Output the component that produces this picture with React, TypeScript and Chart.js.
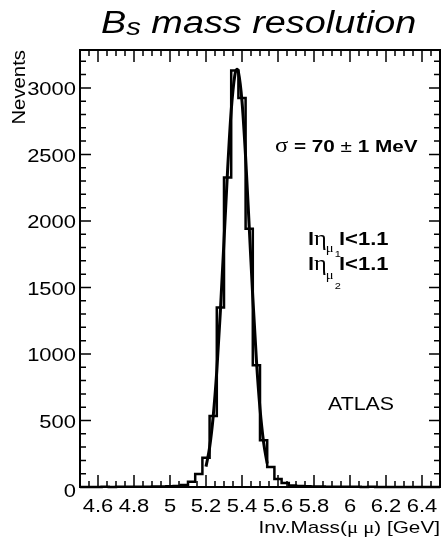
import React, { useEffect, useRef } from "react";
import { Chart, registerables } from "chart.js";

Chart.register(...registerables);

// ---- data ----
const binLow = [
  4.5, 4.54, 4.58, 4.62, 4.66, 4.7, 4.74, 4.78, 4.82, 4.86,
  4.9, 4.94, 4.98, 5.02, 5.06, 5.1, 5.14, 5.18, 5.22, 5.26,
  5.3, 5.34, 5.38, 5.42, 5.46, 5.5, 5.54, 5.58, 5.62, 5.66,
  5.7, 5.74, 5.78, 5.82, 5.86, 5.9, 5.94, 5.98, 6.02, 6.06,
  6.1, 6.14, 6.18, 6.22, 6.26, 6.3, 6.34, 6.38, 6.42, 6.46,
];
const binHigh = 6.5;
const counts = [
  0, 0, 0, 1, 0, 1, 1, 2, 1, 2,
  3, 4, 5, 8, 15, 40, 98, 220, 533, 1350,
  2327, 3130, 2925, 1942, 915, 352, 150, 60, 30, 12,
  8, 5, 4, 3, 2, 2, 1, 1, 1, 0,
  1, 0, 0, 0, 0, 0, 0, 0, 0, 0,
];
const fitMass = [
  5.2, 5.22, 5.24, 5.26, 5.28, 5.3, 5.32, 5.34, 5.36, 5.372,
  5.38, 5.4, 5.42, 5.44, 5.46, 5.48, 5.5, 5.52, 5.54,
];
const fitValues = [
  153, 297, 531, 873, 1324, 1850, 2383, 2829, 3094, 3140,
  3120, 2899, 2482, 1959, 1425, 955, 590, 336, 176,
];
const xTickValues = [4.6, 4.8, 5.0, 5.2, 5.4, 5.6, 5.8, 6.0, 6.2, 6.4];
const xTickLabels = ["4.6", "4.8", "5", "5.2", "5.4", "5.6", "5.8", "6", "6.2", "6.4"];
const yTickValues = [0, 500, 1000, 1500, 2000, 2500, 3000];
const yTickLabels = ["0", "500", "1000", "1500", "2000", "2500", "3000"];
const xRange = [4.5, 6.5];
const yRange = [0, 3285];

// ---- styling ----
const SX = 1.22;
const SANS = '"Liberation Sans", Arial, Helvetica, sans-serif';
const SERIF = '"Liberation Serif", "DejaVu Serif", serif';

type Run = { t: string; font: string; dy?: number };

function drawRuns(ctx: CanvasRenderingContext2D, parts: Run[], x: number, y: number, align: "left" | "right" | "center" = "left", sx = SX) {
  ctx.save();
  let total = 0;
  const widths = parts.map((p) => {
    ctx.font = p.font;
    const w = ctx.measureText(p.t).width * sx;
    total += w;
    return w;
  });
  let cx = x;
  if (align === "right") cx = x - total;
  else if (align === "center") cx = x - total / 2;
  ctx.fillStyle = "#000";
  ctx.textAlign = "left";
  ctx.textBaseline = "alphabetic";
  parts.forEach((p, i) => {
    ctx.save();
    ctx.font = p.font;
    ctx.translate(cx, y + (p.dy || 0));
    ctx.scale(sx, 1);
    ctx.fillText(p.t, 0, 0);
    ctx.restore();
    cx += widths[i];
  });
  ctx.restore();
  return cx;
}

const overlay = {
  id: "rootStyle",
  afterDatasetsDraw(chart: any) {
    const ctx: CanvasRenderingContext2D = chart.ctx;
    const xs = chart.scales.x;
    const ys = chart.scales.y;
    const { left, right, top, bottom } = chart.chartArea;

    ctx.save();
    ctx.strokeStyle = "#000";
    // frame
    ctx.lineWidth = 2;
    ctx.strokeRect(left, top, right - left, bottom - top);

    // ticks (inside, mirrored)
    ctx.lineWidth = 1.5;
    ctx.beginPath();
    for (let v = xRange[0]; v <= xRange[1] + 1e-9; v += 0.05) {
      const px = xs.getPixelForValue(v);
      const major = xTickValues.some((t) => Math.abs(t - v) < 1e-6);
      const len = major ? 12 : 6;
      ctx.moveTo(px, bottom);
      ctx.lineTo(px, bottom - len);
      ctx.moveTo(px, top);
      ctx.lineTo(px, top + len);
    }
    for (let v = 0; v <= yRange[1]; v += 100) {
      const py = ys.getPixelForValue(v);
      const major = yTickValues.indexOf(v) >= 0;
      const len = major ? 11 : 6;
      ctx.moveTo(left, py);
      ctx.lineTo(left + len, py);
      ctx.moveTo(right, py);
      ctx.lineTo(right - len, py);
    }
    ctx.stroke();

    // tick labels
    const tickFont = `18px ${SANS}`;
    xTickValues.forEach((v, i) => {
      drawRuns(ctx, [{ t: xTickLabels[i], font: tickFont }], xs.getPixelForValue(v), 512, "center");
    });
    yTickValues.forEach((v, i) => {
      const py = ys.getPixelForValue(v);
      drawRuns(ctx, [{ t: yTickLabels[i], font: tickFont }], 76, py + (v === 0 ? 10 : 7.5), "right");
    });

    // axis titles
    drawRuns(
      ctx,
      [
        { t: "Inv.Mass(", font: `17px ${SANS}` },
        { t: "\u03bc \u03bc", font: `17px ${SERIF}` },
        { t: ") [GeV]", font: `17px ${SANS}` },
      ],
      440,
      533,
      "right"
    );
    ctx.save();
    ctx.translate(25, 50);
    ctx.rotate(-Math.PI / 2);
    drawRuns(ctx, [{ t: "Nevents", font: `18px ${SANS}` }], 0, 0, "right", 1.13);
    ctx.restore();

    // title
    drawRuns(
      ctx,
      [
        { t: "B", font: `italic 31px ${SANS}` },
        { t: "s", font: `italic 24px ${SANS}`, dy: 2 },
        { t: " mass resolution", font: `italic 31px ${SANS}` },
      ],
      101,
      33,
      "left"
    );

    // sigma annotation
    drawRuns(
      ctx,
      [
        { t: "\u03c3", font: `20px ${SERIF}` },
        { t: " = 70 ", font: `bold 17px ${SANS}` },
        { t: "\u00b1", font: `17px ${SANS}` },
        { t: " 1 MeV", font: `bold 17px ${SANS}` },
      ],
      275,
      152,
      "left"
    );

    // |eta| cuts
    const etaLine = (y: number, idx: string, muDy: number, idxDy: number) => {
      let x = drawRuns(ctx, [{ t: "l", font: `bold 18px ${SANS}` }], 308, y);
      x = drawRuns(ctx, [{ t: "\u03b7", font: `20px ${SERIF}` }], x, y);
      x = drawRuns(ctx, [{ t: "\u03bc", font: `12px ${SERIF}` }], x - 1, y + muDy);
      drawRuns(ctx, [{ t: idx, font: `9px ${SANS}` }], x + 1, y + idxDy);
      drawRuns(ctx, [{ t: "l<1.1", font: `bold 18px ${SANS}` }], 339, y);
    };
    etaLine(245, "1", 7, 12);
    etaLine(270, "2", 9, 19);

    // ATLAS
    drawRuns(ctx, [{ t: "ATLAS", font: `17.5px ${SANS}` }], 328, 410, "left");

    ctx.restore();
  },
};

export default function App() {
  const ref = useRef<HTMLCanvasElement | null>(null);

  useEffect(() => {
    document.body.style.margin = "0";
    const canvas = ref.current;
    if (!canvas) return;

    const histPoints = binLow.map((x, i) => ({ x, y: counts[i] }));
    histPoints.push({ x: binHigh, y: 0 });
    const fitPoints = fitMass.map((x, i) => ({ x, y: fitValues[i] }));

    const chart = new Chart(canvas, {
      type: "line",
      data: {
        datasets: [
          {
            label: "histogram",
            data: histPoints,
            stepped: "before",
            borderColor: "#000",
            borderWidth: 2.5,
            pointRadius: 0,
            fill: false,
            clip: 6,
          } as any,
          {
            label: "fit",
            data: fitPoints,
            borderColor: "#000",
            borderWidth: 3,
            pointRadius: 0,
            fill: false,
            cubicInterpolationMode: "monotone",
            clip: 6,
          } as any,
        ],
      },
      options: {
        responsive: false,
        animation: false,
        layout: { padding: { left: 80, top: 50, right: 4, bottom: 54 } },
        plugins: {
          legend: { display: false },
          tooltip: { enabled: false },
          title: { display: false },
        },
        scales: {
          x: { type: "linear", min: xRange[0], max: xRange[1], display: false },
          y: { type: "linear", min: yRange[0], max: yRange[1], display: false },
        },
      },
      plugins: [overlay],
    });

    return () => chart.destroy();
  }, []);

  return (
    <div style={{ position: "absolute", left: 0, top: 0, width: 444, height: 541, background: "#fff" }}>
      <canvas ref={ref} width={444} height={541} style={{ display: "block", width: 444, height: 541 }} />
    </div>
  );
}
